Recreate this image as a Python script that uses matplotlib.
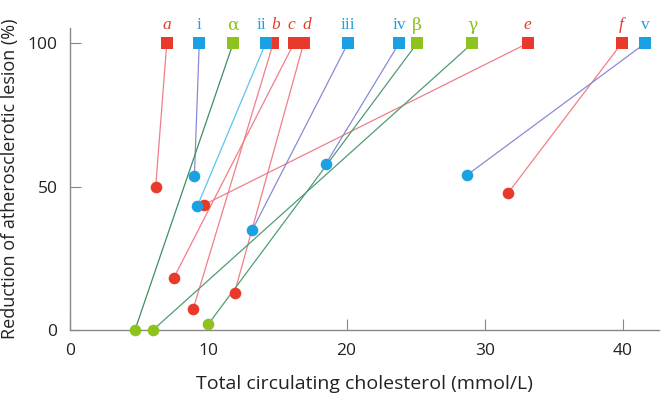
import matplotlib.pyplot as plt

# red series (italic letters)
red_labels = ["a", "b", "c", "d", "e", "f"]
red_top_x = [7.0, 14.7, 16.2, 16.9, 33.1, 39.9]
red_base_x = [6.2, 8.9, 7.5, 11.9, 9.7, 31.7]
red_base_y = [50.0, 7.2, 18.1, 13.0, 43.7, 47.9]

# blue series (roman numerals)
blue_labels = ["i", "ii", "iii", "iv", "v"]
blue_top_x = [9.35, 14.15, 20.1, 23.8, 41.6]
blue_base_x = [9.0, 9.2, 13.2, 18.5, 28.7]
blue_base_y = [53.8, 43.1, 35.0, 57.9, 54.0]

# green series (greek letters)
green_labels = ["α", "β", "γ"]
green_top_x = [11.8, 25.1, 29.1]
green_base_x = [4.7, 10.0, 6.0]
green_base_y = [0.0, 2.0, 0.0]

top_y = 100

RED = "#e8392a"
BLUE = "#1ba1e2"
GREEN = "#8dc21f"
red_line = ["#f07f88"] * 6
blue_line = ["#8a8ad6", "#5ec4ef", "#8a8ad6", "#8a8ad6", "#8a8ad6"]
green_line = ["#3d8f63", "#4f9c73", "#4f9c73"]

# small horizontal nudges (points) so crowded labels don't collide
nudge = {"ii": -3, "b": 2, "c": -2, "d": 2}

fig = plt.figure(figsize=(6.62, 4.01), dpi=100)
ax = fig.add_axes([0.1057, 0.177, 0.8898, 0.753])

groups = [
    (red_labels, red_top_x, red_base_x, red_base_y, RED, red_line, "italic"),
    (blue_labels, blue_top_x, blue_base_x, blue_base_y, BLUE, blue_line, "normal"),
    (green_labels, green_top_x, green_base_x, green_base_y, GREEN, green_line, "normal"),
]

for labels, tx, bx, by, col, lcols, style in groups:
    for lab, x0, x1, y1, lc in zip(labels, tx, bx, by, lcols):
        ax.plot([x0, x1], [top_y, y1], color=lc, lw=0.9, zorder=2, clip_on=False)
    ax.scatter(bx, by, s=70, color=col, marker="o", zorder=3, clip_on=False, linewidths=0)
    ax.scatter(tx, [top_y] * len(tx), s=75, color=col, marker="s", zorder=3,
               clip_on=False, linewidths=0)
    for lab, x0 in zip(labels, tx):
        fam = "DejaVu Serif" if lab in green_labels else "Liberation Serif"
        ax.annotate(lab, (x0, top_y), xytext=(nudge.get(lab, 0), 13),
                    textcoords="offset points", color=col, ha="center", va="center",
                    fontsize=12.5, family=fam, style=style, annotation_clip=False)

ax.set_xlim(0, 42.6)
ax.set_ylim(0, 105.3)
ax.set_xticks([0, 10, 20, 30, 40])
ax.set_yticks([0, 50, 100])
for s in ["top", "right"]:
    ax.spines[s].set_visible(False)
for s in ["left", "bottom"]:
    ax.spines[s].set_color("#888888")
    ax.spines[s].set_linewidth(1.0)
ax.tick_params(direction="in", length=8, color="#888888", labelsize=12.5,
               labelcolor="#222222", pad=9)
for t in ax.get_xticklabels() + ax.get_yticklabels():
    t.set_family("Open Sans")

ax.set_xlabel("Total circulating cholesterol (mmol/L)", fontsize=14,
              family="Open Sans", labelpad=12, color="#222222")
ax.set_ylabel("Reduction of atherosclerotic lesion (%)", fontsize=13,
              family="Open Sans", labelpad=6, color="#222222")

fig.savefig("out.png", dpi=100)
